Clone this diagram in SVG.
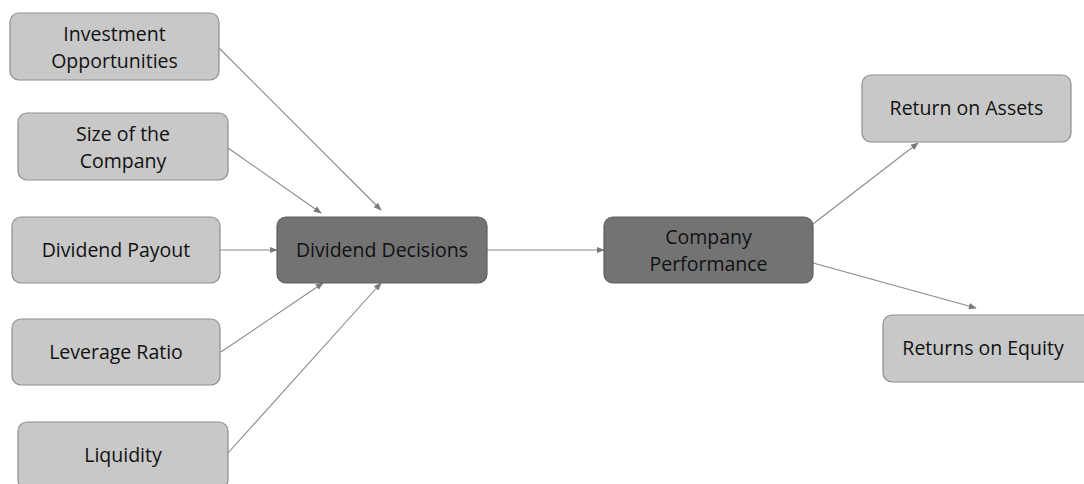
<svg xmlns="http://www.w3.org/2000/svg" width="1084" height="484" viewBox="0 0 1084 484">
<style>
.lb{fill:#c8c8c8;stroke:#8e8e8e;stroke-width:1.2}
.db{fill:#737373;stroke:#5e5e5e;stroke-width:1.2}
text{font-family:"Open Sans","Liberation Sans",sans-serif;font-size:19.5px;fill:#111111;text-anchor:middle}
.c line{stroke:#8a8a8a;stroke-width:1.1;marker-end:url(#ah)}
</style>
<defs>
<marker id="ah" viewBox="0 0 10 10" refX="9" refY="5" markerWidth="8" markerHeight="8" markerUnits="userSpaceOnUse" orient="auto">
<path d="M0,1 L10,5 L0,9 z" fill="#7a7a7a"/>
</marker>
</defs>
<rect width="1084" height="484" fill="#ffffff"/>
<g class="c">
<line x1="219" y1="48" x2="381" y2="210"/>
<line x1="228" y1="148" x2="321" y2="213"/>
<line x1="220" y1="250" x2="277" y2="250"/>
<line x1="221" y1="352" x2="323" y2="283"/>
<line x1="228" y1="453" x2="381" y2="283"/>
<line x1="487" y1="250" x2="604" y2="250"/>
<line x1="813" y1="224" x2="918" y2="143"/>
<line x1="813" y1="263" x2="976" y2="308"/>
</g>
<g id="investment"><rect class="lb" x="10" y="13" width="209" height="67" rx="9"/><text x="114.5" y="41">Investment</text><text x="114.5" y="68">Opportunities</text></g>
<g id="size"><rect class="lb" x="18" y="113" width="210" height="67" rx="9"/><text x="123" y="141">Size of the</text><text x="123" y="168">Company</text></g>
<g id="payout"><rect class="lb" x="12" y="217" width="208" height="66" rx="9"/><text x="116" y="257">Dividend Payout</text></g>
<g id="leverage"><rect class="lb" x="12" y="319" width="208" height="66" rx="9"/><text x="116" y="359">Leverage Ratio</text></g>
<g id="liquidity"><rect class="lb" x="18" y="422" width="210" height="67" rx="9"/><text x="123" y="462">Liquidity</text></g>
<g id="decisions"><rect class="db" x="277" y="217" width="210" height="66" rx="9"/><text x="382" y="257">Dividend Decisions</text></g>
<g id="performance"><rect class="db" x="604" y="217" width="209" height="66" rx="9"/><text x="708.5" y="244">Company</text><text x="708.5" y="271">Performance</text></g>
<g id="roa"><rect class="lb" x="862" y="75" width="209" height="67" rx="9"/><text x="966.5" y="115">Return on Assets</text></g>
<g id="roe"><rect class="lb" x="883" y="315" width="210" height="67" rx="9"/><text x="983" y="355">Returns on Equity</text></g>
</svg>
